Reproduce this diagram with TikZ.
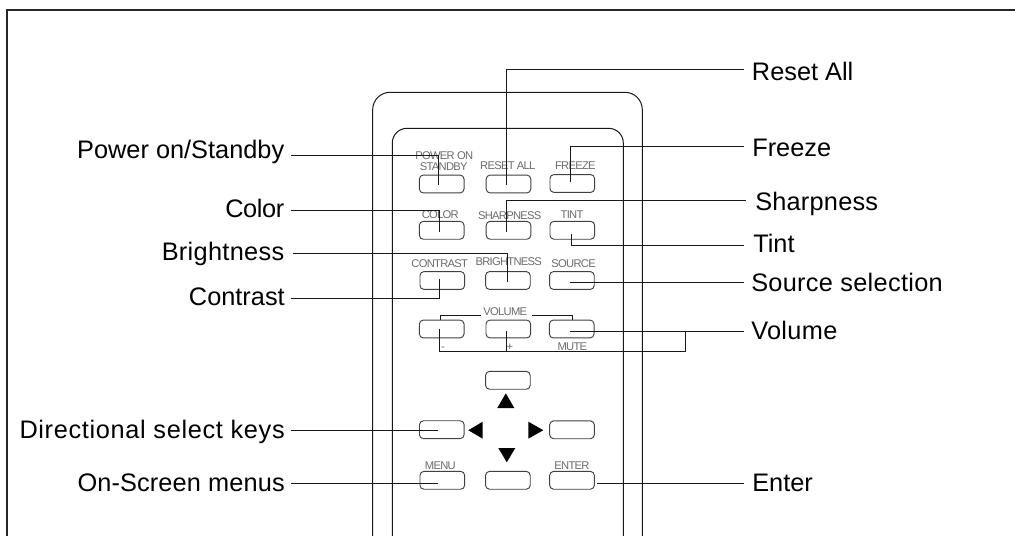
\documentclass[tikz,border=0pt]{standalone}
\usepackage{fontspec}
\setmainfont{Liberation Sans}
\newfontfamily\smallface[LetterSpace=-6.5]{Liberation Sans}
\newcommand{\lsp}[1]{\addfontfeature{LetterSpace=#1}}
\tikzset{
  btn/.style={draw=black!75,line width=0.7pt,rounded corners=3pt,minimum width=33.5pt,minimum height=13.4pt,inner sep=0pt,fill=white},
  biglab/.style={font=\fontsize{19}{19}\selectfont,text=black,inner sep=0pt},
  leftlab/.style={biglab,anchor=base east},
  rightlab/.style={biglab,anchor=base west},
  small/.style={font=\smallface\fontsize{8.4}{8.4}\selectfont,text=black!58,inner sep=0pt,anchor=base},
  leader/.style={draw=black!90,line width=0.75pt},
  body/.style={draw=black!90,line width=0.75pt},
  tri/.style={fill=black,draw=none}
}
\begin{document}
\begin{tikzpicture}[x=0.75pt,y=-0.75pt]
\useasboundingbox (0,0) rectangle (1015,536);
% frame
\draw[draw=black!85,line width=0.85pt] (7,536) -- (7,10) -- (1015,10);
% remote body
\draw[body,rounded corners=13pt] (372.7,536) -- (372.7,92.3) -- (642.3,92.3) -- (642.3,536);
\draw[body,rounded corners=11pt] (392.3,536) -- (392.3,128.3) -- (623.3,128.3) -- (623.3,536);
% buttons
\node[btn] (bpower) at (441.7,184) {};
\node[btn] (breset) at (508.5,184) {};
\node[btn] (bfreeze) at (572.3,183.5) {};
\node[btn] (bcolor) at (441.7,230.3) {};
\node[btn] (bsharp) at (508.5,230.3) {};
\node[btn] (btint) at (572.3,230.3) {};
\node[btn] (bcontrast) at (442.3,280.5) {};
\node[btn] (bbright) at (507.9,280.5) {};
\node[btn] (bsource) at (571.9,280.5) {};
\node[btn] (bminus) at (441.7,329) {};
\node[btn] (bplus) at (508.3,329) {};
\node[btn] (bmute) at (571.7,329) {};
\node[btn] (bup) at (507.9,380.3) {};
\node[btn] (bleft) at (441.8,429.7) {};
\node[btn] (bright) at (572,429.8) {};
\node[btn] (bmenu) at (442.3,480.3) {};
\node[btn] (bdown) at (507.9,480.3) {};
\node[btn] (benter) at (572,480.3) {};
% small labels
\node[small] (tpower) at (444.2,159.3) {POWER ON};
\node[small] (tstandby) at (443.8,170) {STANDBY};
\node[small] (treset) at (507.8,169) {RESET ALL};
\node[small] (tfreeze) at (575.3,169) {FREEZE};
\node[small] (tcolor) at (440.3,218.3) {COLOR};
\node[small] (tsharp) at (509.7,219) {SHARPNESS};
\node[small] (ttint) at (572,218.3) {TINT};
\node[small] (tcontrast) at (439.7,267) {CONTRAST};
\node[small] (tbright) at (508.7,265.7) {BRIGHTNESS};
\node[small] (tsource) at (573.6,267) {SOURCE};
\node[small] (tvolume) at (505.3,315.7) {VOLUME};
\node[small] (tminus) at (443,350) {-};
\node[small] (tplus) at (510,350) {+};
\node[small] (tmute) at (572.3,350.7) {MUTE};
\node[small] (tmenu) at (440.3,469) {MENU};
\node[small] (tenter) at (572,469) {ENTER};
% volume bracket
\coordinate (vl0) at (480.7,315);
\coordinate (vl1) at (440.7,320);
\coordinate (vr0) at (532,315);
\coordinate (vr1) at (572.3,320);
\draw[leader,line width=0.65pt] (vl0) -| (vl1);
\draw[leader,line width=0.65pt] (vr0) -| (vr1);
% arrows
\fill[tri] (505.8,393.3) -- (514.3,408) -- (497.3,408) -- cycle;
\fill[tri] (543.3,430.2) -- (528.3,421.7) -- (528.3,438.7) -- cycle;
\fill[tri] (468.3,430.2) -- (482.7,421.7) -- (482.7,438.7) -- cycle;
\fill[tri] (506.8,462.3) -- (515.3,448) -- (498.3,448) -- cycle;
% big labels
\node[leftlab] (lpower) at (284.5,158.3) {Power on/Standby};
\node[leftlab] (lcolor) at (284.5,217.7) {\lsp{-1.6}Color};
\node[leftlab] (lbright) at (284.5,260) {\lsp{1.2}Brightness};
\node[leftlab] (lcontrast) at (285,305) {Contrast};
\node[leftlab] (ldir) at (285,438.7) {\lsp{2.6}Directional select keys};
\node[leftlab] (lmenu) at (285,491.7) {\lsp{0.5}On-Screen menus};
\node[rightlab] (rreset) at (751.7,80.7) {Reset All};
\node[rightlab] (rfreeze) at (752,156.7) {Freeze};
\node[rightlab] (rsharp) at (755,210.7) {\lsp{0.9}Sharpness};
\node[rightlab] (rtint) at (753,252.7) {Tint};
\node[rightlab] (rsource) at (751,291.7) {\lsp{1.2}Source selection};
\node[rightlab] (rvolume) at (751,339) {\lsp{1.3}Volume};
\node[rightlab] (renter) at (752,491.7) {Enter};
% leader ends
\coordinate (s1) at (291,155.7); \coordinate (e1) at (438.3,185);
\coordinate (s2) at (291,210.3); \coordinate (e2) at (439.3,231.7);
\coordinate (s3) at (293,253.7); \coordinate (e3) at (507,281.7);
\coordinate (s4) at (291,298.3); \coordinate (e4) at (439.3,279);
\coordinate (s5) at (291,430.7); \coordinate (e5) at (438.3,430.7);
\coordinate (s6) at (291,483.7); \coordinate (e6) at (438.3,483.7);
\coordinate (r1) at (744.3,69.3); \coordinate (f1) at (506,185);
\coordinate (r2) at (744,146.7); \coordinate (f2) at (570.7,181.7);
\coordinate (r3) at (745.7,200.7); \coordinate (f3) at (506.7,231.7);
\coordinate (r4) at (744,245.7); \coordinate (f4) at (571,234);
\coordinate (r5) at (744,282.7); \coordinate (f5) at (570,282.7);
\coordinate (r6) at (744,331.7); \coordinate (f6) at (570,331.7);
\coordinate (r7) at (744,483.7); \coordinate (f7) at (597.3,483.7);
\coordinate (vj) at (685.3,331.7); \coordinate (vb) at (685.3,351.7);
\coordinate (vm) at (439,329); \coordinate (vp) at (506.7,331);
\coordinate (vpb) at (506.7,351.7);
% leaders
\draw[leader] (s1) -| (e1);
\draw[leader] (s2) -| (e2);
\draw[leader] (s3) -| (e3);
\draw[leader] (s4) -| (e4);
\draw[leader] (s5) -- (e5);
\draw[leader] (s6) -- (e6);
\draw[leader] (r1) -| (f1);
\draw[leader] (r2) -| (f2);
\draw[leader] (r3) -| (f3);
\draw[leader] (r4) -| (f4);
\draw[leader] (r5) -- (f5);
\draw[leader] (r6) -- (f6);
\draw[leader] (r7) -- (f7);
\draw[leader] (vj) -- (vb) -| (vm);
\draw[leader] (vpb) -- (vp);
\end{tikzpicture}
\end{document}
